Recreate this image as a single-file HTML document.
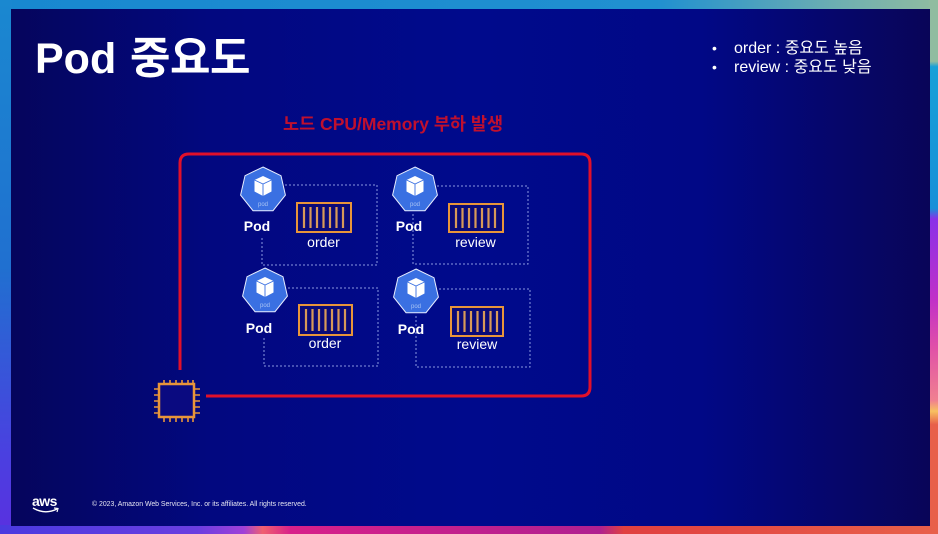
<!DOCTYPE html>
<html><head><meta charset="utf-8">
<style>
html,body{margin:0;padding:0;width:938px;height:534px;overflow:hidden;background:#000a8c;}
svg{display:block;}
text{font-family:"Liberation Sans","Noto Sans CJK KR",sans-serif;}
</style></head>
<body>
<svg width="938" height="534" viewBox="0 0 938 534" xmlns="http://www.w3.org/2000/svg">
<defs>
<linearGradient id="panel" x1="0" y1="0" x2="1" y2="0">
<stop offset="0" stop-color="#05055c"/>
<stop offset="0.22" stop-color="#020880"/>
<stop offset="0.5" stop-color="#000a8c"/>
<stop offset="0.75" stop-color="#010886"/>
<stop offset="1" stop-color="#090558"/>
</linearGradient>
<linearGradient id="topB" x1="0" y1="0" x2="1" y2="0">
<stop offset="0" stop-color="#1888d0"/>
<stop offset="0.7" stop-color="#2090d0"/>
<stop offset="0.9" stop-color="#70b0b0"/>
<stop offset="1" stop-color="#90bca0"/>
</linearGradient>
<linearGradient id="leftB" x1="0" y1="0" x2="0" y2="1">
<stop offset="0" stop-color="#1a88d0"/>
<stop offset="0.5" stop-color="#2070d0"/>
<stop offset="0.85" stop-color="#4a40e0"/>
<stop offset="1" stop-color="#5a30e0"/>
</linearGradient>
<linearGradient id="rightB" x1="0" y1="0" x2="0" y2="1">
<stop offset="0" stop-color="#90bca0"/>
<stop offset="0.115" stop-color="#90bca0"/>
<stop offset="0.125" stop-color="#18a0d8"/>
<stop offset="0.39" stop-color="#1890d8"/>
<stop offset="0.41" stop-color="#8a30e8"/>
<stop offset="0.56" stop-color="#c030c8"/>
<stop offset="0.65" stop-color="#e050a8"/>
<stop offset="0.75" stop-color="#f08090"/>
<stop offset="0.77" stop-color="#f8c060"/>
<stop offset="0.795" stop-color="#e8604a"/>
<stop offset="1" stop-color="#e8604a"/>
</linearGradient>
<linearGradient id="botB" x1="0" y1="0" x2="1" y2="0">
<stop offset="0" stop-color="#4a3ae0"/>
<stop offset="0.21" stop-color="#6a3ee0"/>
<stop offset="0.26" stop-color="#a040d8"/>
<stop offset="0.28" stop-color="#f06070"/>
<stop offset="0.31" stop-color="#d8208a"/>
<stop offset="0.64" stop-color="#b02090"/>
<stop offset="0.665" stop-color="#e04040"/>
<stop offset="1" stop-color="#e8604a"/>
</linearGradient>
</defs>

<!-- borders -->
<rect x="0" y="0" width="938" height="534" fill="#2080d0"/>
<rect x="0" y="0" width="938" height="10" fill="url(#topB)"/>
<rect x="0" y="0" width="12" height="534" fill="url(#leftB)"/>
<rect x="929" y="0" width="9" height="534" fill="url(#rightB)"/>
<rect x="0" y="525" width="938" height="9" fill="url(#botB)"/>
<!-- panel -->
<rect x="11" y="9" width="919" height="517" fill="url(#panel)"/>

<!-- title -->
<text x="35" y="73" font-size="43" font-weight="bold" fill="#ffffff">Pod</text>
<text x="130" y="73" font-size="44" font-weight="bold" fill="#ffffff" letter-spacing="-0.5" style='font-family:"Noto Sans CJK KR",sans-serif'>중요도</text>

<!-- bullets -->
<text x="712" y="53" font-size="14" fill="#ffffff">•</text>
<text x="734" y="53" font-size="16" fill="#ffffff">order : 중요도 높음</text>
<text x="712" y="72" font-size="14" fill="#ffffff">•</text>
<text x="734" y="72" font-size="16" fill="#ffffff">review : 중요도 낮음</text>

<!-- red heading -->
<text x="283" y="130" font-size="17.5" font-weight="bold" fill="#c0102e">노드 CPU/Memory 부하 발생</text>

<!-- red frame -->
<path d="M180,370 L180,163 Q180,154 189,154 L581,154 Q590,154 590,163 L590,387 Q590,396 581,396 L206,396" fill="none" stroke="#e0102a" stroke-width="3"/>

<!-- dashed boxes -->
<g fill="none" stroke="#8a98e0" stroke-width="1" stroke-dasharray="2,2">
<path d="M285,185 L377,185 L377,265 L262,265 L262,238"/>
<path d="M437,186 L528,186 L528,264 L413,264 L413,212"/>
<path d="M288,288 L378,288 L378,366 L264,366 L264,338"/>
<path d="M439,289 L530,289 L530,367 L416,367 L416,314"/>
</g>

<!-- pods -->
<g transform="translate(263,190)">
<polygon points="0,-23 17.98,-14.34 22.42,5.12 9.98,20.72 -9.98,20.72 -22.42,5.12 -17.98,-14.34" fill="#3a70e2" stroke="#e8eeff" stroke-width="1"/>
<polygon points="0,-14 8.5,-10 8.5,1.5 0,6 -8.5,1.5 -8.5,-10" fill="#ffffff"/>
<path d="M-8.5,-10 L0,-6 L8.5,-10 M0,-6 L0,6" fill="none" stroke="#3a70e2" stroke-width="0.9"/>
<text x="0" y="16" font-size="6" fill="#a8c4f4" text-anchor="middle">pod</text>
</g>
<g transform="translate(415,190)">
<polygon points="0,-23 17.98,-14.34 22.42,5.12 9.98,20.72 -9.98,20.72 -22.42,5.12 -17.98,-14.34" fill="#3a70e2" stroke="#e8eeff" stroke-width="1"/>
<polygon points="0,-14 8.5,-10 8.5,1.5 0,6 -8.5,1.5 -8.5,-10" fill="#ffffff"/>
<path d="M-8.5,-10 L0,-6 L8.5,-10 M0,-6 L0,6" fill="none" stroke="#3a70e2" stroke-width="0.9"/>
<text x="0" y="16" font-size="6" fill="#a8c4f4" text-anchor="middle">pod</text>
</g>
<g transform="translate(265,291)">
<polygon points="0,-23 17.98,-14.34 22.42,5.12 9.98,20.72 -9.98,20.72 -22.42,5.12 -17.98,-14.34" fill="#3a70e2" stroke="#e8eeff" stroke-width="1"/>
<polygon points="0,-14 8.5,-10 8.5,1.5 0,6 -8.5,1.5 -8.5,-10" fill="#ffffff"/>
<path d="M-8.5,-10 L0,-6 L8.5,-10 M0,-6 L0,6" fill="none" stroke="#3a70e2" stroke-width="0.9"/>
<text x="0" y="16" font-size="6" fill="#a8c4f4" text-anchor="middle">pod</text>
</g>
<g transform="translate(416,292)">
<polygon points="0,-23 17.98,-14.34 22.42,5.12 9.98,20.72 -9.98,20.72 -22.42,5.12 -17.98,-14.34" fill="#3a70e2" stroke="#e8eeff" stroke-width="1"/>
<polygon points="0,-14 8.5,-10 8.5,1.5 0,6 -8.5,1.5 -8.5,-10" fill="#ffffff"/>
<path d="M-8.5,-10 L0,-6 L8.5,-10 M0,-6 L0,6" fill="none" stroke="#3a70e2" stroke-width="0.9"/>
<text x="0" y="16" font-size="6" fill="#a8c4f4" text-anchor="middle">pod</text>
</g>

<!-- Pod labels -->
<g font-size="14" font-weight="bold" fill="#ffffff" text-anchor="middle">
<text x="257" y="231">Pod</text>
<text x="409" y="231">Pod</text>
<text x="259" y="333">Pod</text>
<text x="411" y="334">Pod</text>
</g>

<!-- containers -->
<g fill="#0a0a78" stroke="#e8953a" stroke-width="2">
<rect x="297" y="203" width="54" height="29"/>
<rect x="449" y="204" width="54" height="28"/>
<rect x="299" y="305" width="53" height="30"/>
<rect x="451" y="307" width="52" height="29"/>
</g>
<g stroke="#d89a58" stroke-width="2.2">
<path d="M304,207v21 M310.5,207v21 M317,207v21 M323.5,207v21 M330,207v21 M336.5,207v21 M343,207v21"/>
<path d="M456,208v20 M462.5,208v20 M469,208v20 M475.5,208v20 M482,208v20 M488.5,208v20 M495,208v20"/>
<path d="M306,309v22 M312.5,309v22 M319,309v22 M325.5,309v22 M332,309v22 M338.5,309v22 M345,309v22"/>
<path d="M458,311v21 M464.5,311v21 M471,311v21 M477.5,311v21 M484,311v21 M490.5,311v21 M497,311v21"/>
</g>
<g font-size="14" fill="#ffffff" text-anchor="middle">
<text x="323.5" y="247">order</text>
<text x="475.5" y="247">review</text>
<text x="325" y="348">order</text>
<text x="477" y="349">review</text>
</g>

<!-- chip -->
<g stroke="#e8953a" stroke-width="1.6" fill="none">
<rect x="159" y="384" width="35" height="33" fill="#0a0a80" stroke-width="2.5"/>
<path d="M164,380v4 M170,380v4 M176,380v4 M182,380v4 M188,380v4 M193,380v4"/>
<path d="M164,417v5 M170,417v5 M176,417v5 M182,417v5 M188,417v5 M193,417v5"/>
<path d="M154,389h5 M154,395h5 M154,401h5 M154,407h5 M154,413h5"/>
<path d="M194,389h6 M194,395h6 M194,401h6 M194,407h6 M194,413h6"/>
</g>

<!-- footer -->
<text x="32" y="506" font-size="14" font-weight="bold" fill="#ffffff" letter-spacing="-0.5">aws</text>
<path d="M33,508 Q45,515 57,509" fill="none" stroke="#ffffff" stroke-width="1.4"/>
<path d="M54,508 L58,508.5 L57,512" fill="none" stroke="#ffffff" stroke-width="1.2"/>
<text x="92" y="506" font-size="6.9" fill="#e6e6f2">© 2023, Amazon Web Services, Inc. or its affiliates. All rights reserved.</text>
</svg>
</body></html>
